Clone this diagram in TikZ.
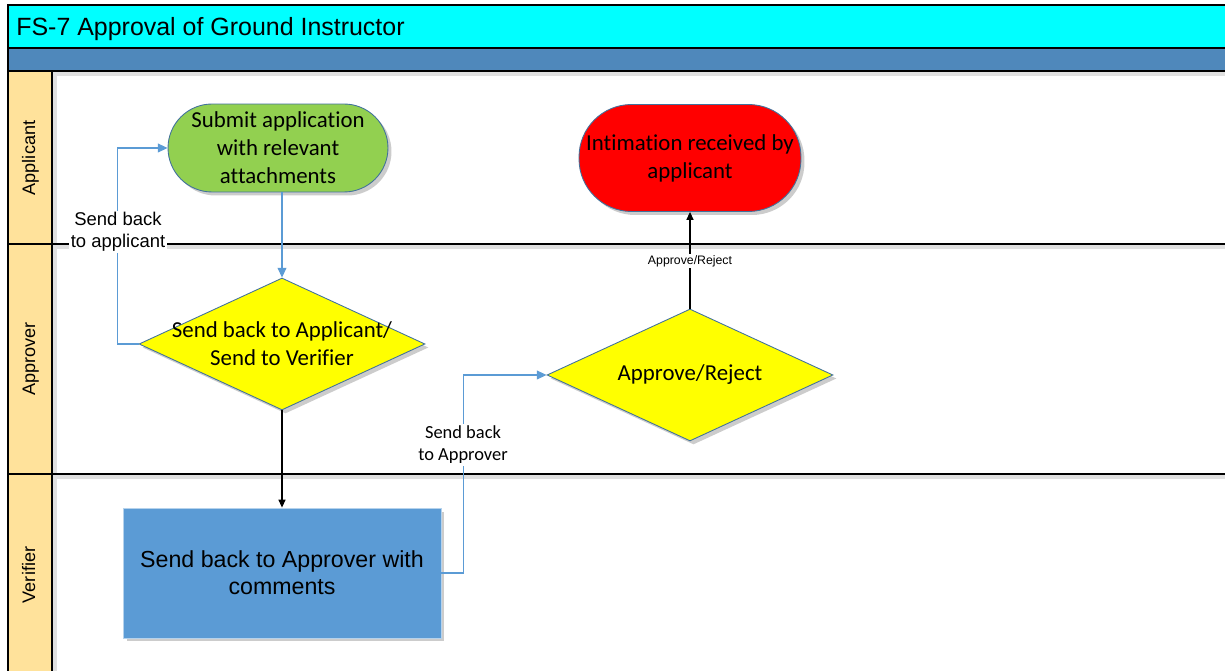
\documentclass[tikz,border=0pt]{standalone}
\usepackage{fontspec}
\setmainfont{Carlito}[Ligatures=NoCommon]
\setsansfont{Liberation Sans}[Ligatures=NoCommon]
\usetikzlibrary{arrows.meta,shapes.geometric,shadows}
\definecolor{poolCyan}{HTML}{00FFFF}
\definecolor{bandBlue}{HTML}{4F88BB}
\definecolor{laneTan}{HTML}{FFE29B}
\definecolor{startGreen}{HTML}{92D050}
\definecolor{endRed}{HTML}{FF0000}
\definecolor{choiceYellow}{HTML}{FFFF00}
\definecolor{taskBlue}{HTML}{5B9BD5}
\definecolor{edgeBlue}{HTML}{41719C}
\tikzset{%
  >={Triangle[width=5pt,length=5.5pt]},
  % Specifications for style of nodes:
            base/.style = {draw=edgeBlue, line width=0.5pt, align=center,
                           font=\fontsize{13}{16}\selectfont,
                           drop shadow={shadow xshift=2pt, shadow yshift=-2pt,
                                        opacity=0.2, fill=black}},
       startstop/.style = {base, rectangle, inner sep=2pt},
        decision/.style = {base, diamond, inner sep=0pt, fill=choiceYellow,
                           minimum width=5.72cm, minimum height=2.64cm,
                           label={[font=\fontsize{13}{16}\selectfont,
                                   align=center]center:{#1}}},
         process/.style = {base, rectangle, draw=taskBlue!45, fill=taskBlue,
                           minimum width=6.36cm, minimum height=2.6cm,
                           font=\sffamily\fontsize{13.2}{15.5}\selectfont},
       laneTitle/.style = {rotate=90, anchor=base,
                           font=\sffamily\fontsize{10.3}{12}\selectfont},
       edgeLabel/.style = {fill=white, inner sep=1pt, align=center},
        blueFlow/.style = {draw=taskBlue, line width=0.6pt, ->},
       blackFlow/.style = {draw=black, line width=0.6pt,
                           -{Triangle[width=4pt,length=4.5pt]}},
           frame/.style = {line width=0.9pt},
      frameShade/.style = {black!12, line width=2.5pt},
}

\begin{document}
\begin{tikzpicture}[x=0.02cm, y=-0.02cm]
  \useasboundingbox (0,0) rectangle (1225,671);
  % Pool: title bar, band and lane column
  \fill[poolCyan] (8,5)  rectangle (1240,48);
  \fill[bandBlue] (8,48) rectangle (1240,71);
  \fill[laneTan]  (8,71) rectangle (52,690);
  \draw[frameShade] (55,71) -- (55,690);
  \draw[frameShade] (52,74) -- (1240,74);
  \foreach \y in {244,474}
    \draw[frameShade] (52,\y+3) -- (1240,\y+3);
  \draw[frame] (1240,5) -- (8,5) -- (8,690);
  \draw[frame] (8,48) -- (1240,48);
  \draw[frame] (8,71) -- (1240,71);
  \draw[frame] (52,71) -- (52,690);
  \foreach \y in {244,474}
    \draw[frame] (8,\y) -- (1240,\y);

  \node (title) [anchor=base west, inner sep=0pt,
                 font=\sffamily\fontsize{14.2}{16}\selectfont]
        at (16,36) {FS-7 Approval of Ground Instructor};
  \node (laneApplicant) [laneTitle] at (35,158) {Applicant};
  \node (laneApprover)  [laneTitle] at (35,359) {Approver};
  \node (laneVerifier)  [laneTitle] at (35,575) {Verifier};

  % Specification of nodes (position, etc.)
  \node (submit) [startstop, fill=startGreen, rounded corners=0.88cm,
                  minimum width=4.4cm, minimum height=1.76cm] at (278,148)
                 {Submit application\\with relevant\\attachments};
  \node (notify) [startstop, fill=endRed, rounded corners=1.05cm,
                  minimum width=4.44cm, minimum height=2.14cm] at (690,158)
                 {Intimation received by\\applicant};
  \node (check)  [decision={Send back to Applicant/\\Send to Verifier}] at (282,344) {};
  \node (decide) [decision={Approve/Reject}] at (690,375) {};
  \node (verify) [process] at (282,573) {Send back to Approver with\\comments};

  % Specification of lines between nodes specified above
  % with aditional nodes for description
  \draw[blueFlow]  (submit.south -| check.north) -- (check.north);
  \draw[blueFlow]  (check.west) -- ++(-21,0) |- (submit.west);
  \draw[blackFlow] (check.south) -- (verify.north);
  \draw[blueFlow]  (verify.east) -- ++(22,0) |- (decide.west);
  \draw[blackFlow] (decide.north) -- (notify.south);

  \node (backApplicant) [edgeLabel, font=\sffamily\fontsize{10.5}{12.5}\selectfont]
        at (118,232) {Send back\\to applicant};
  \node (backApprover)  [edgeLabel, font=\fontsize{10.5}{12.5}\selectfont]
        at (463,445) {Send back\\to Approver};
  \node (verdict)       [edgeLabel, font=\sffamily\fontsize{7}{8}\selectfont]
        at (690,261) {Approve/Reject};
\end{tikzpicture}
\end{document}
